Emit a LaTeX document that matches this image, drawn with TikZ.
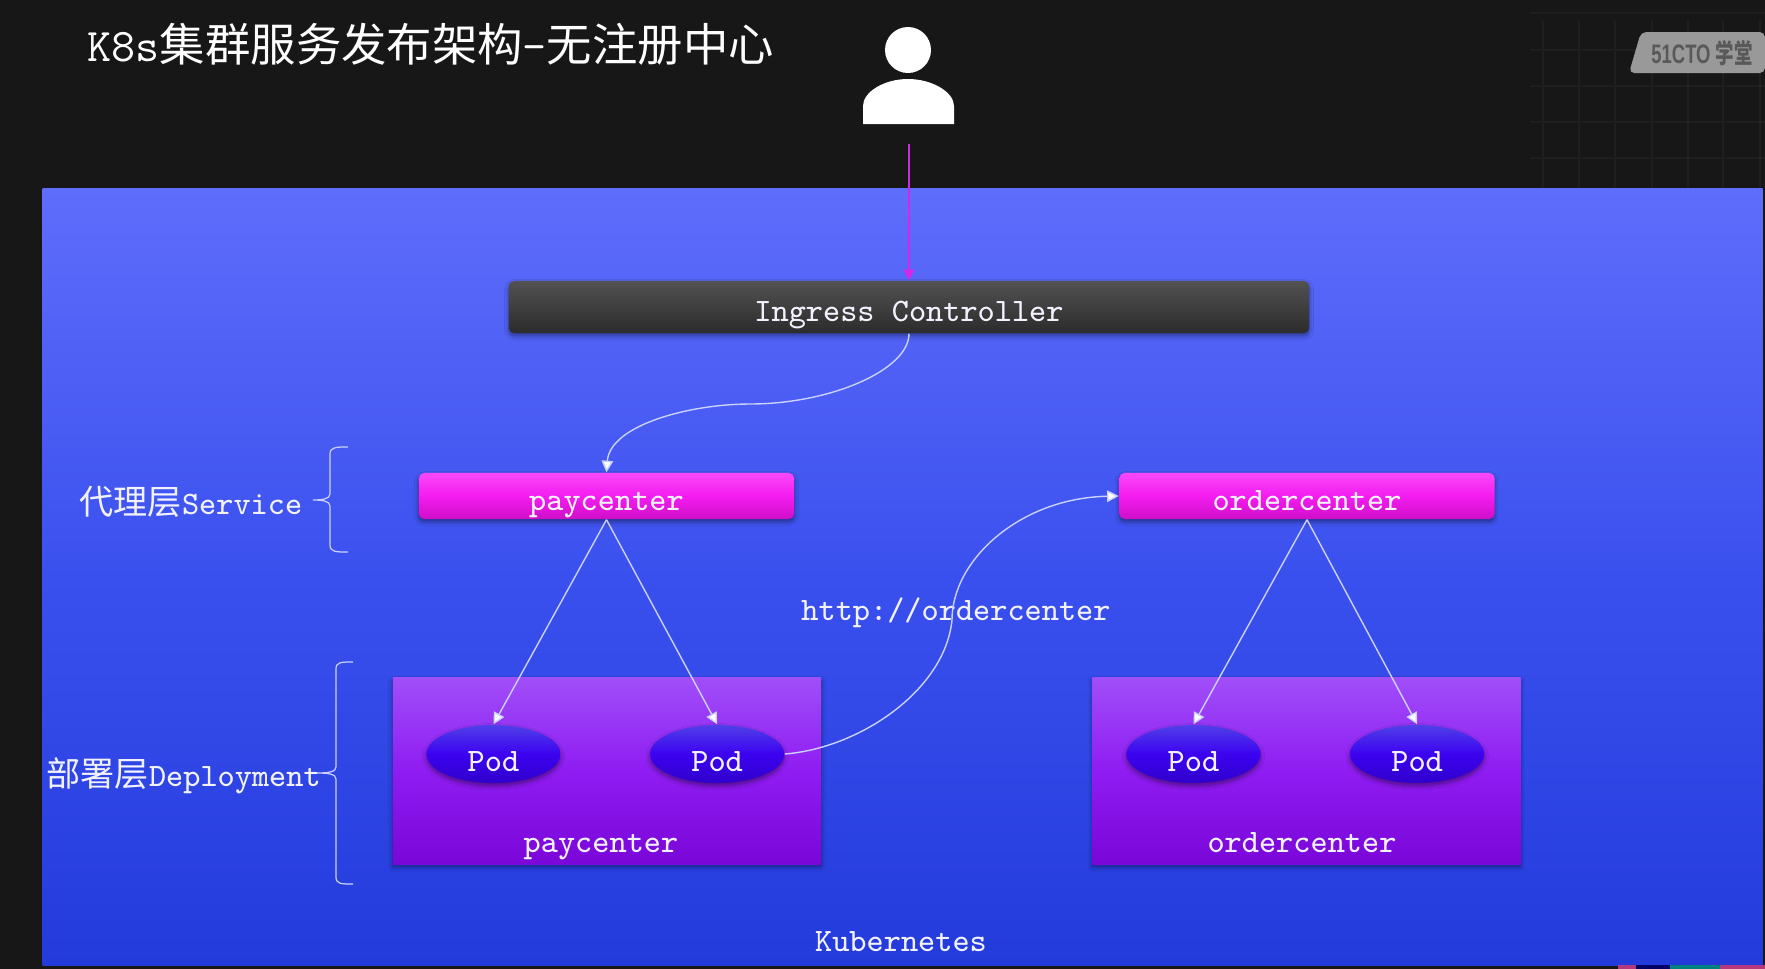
\documentclass[tikz,border=0pt]{standalone}
\usepackage{fontspec}
\usetikzlibrary{arrows.meta, shapes.geometric, shadows.blur}
\newfontfamily\cjk{Noto Sans CJK SC}
\newfontfamily\badgefont{Liberation Sans}
\definecolor{page}{HTML}{171717}
\definecolor{gridline}{HTML}{1F1F1F}
\definecolor{wire}{HTML}{CBD1FB}
\definecolor{ink}{HTML}{F2F2FF}
\definecolor{magline}{HTML}{D428E8}
\definecolor{blue1}{HTML}{5F6DFB}
\definecolor{blue15}{HTML}{3A50EE}
\definecolor{blue2}{HTML}{243BDC}
\definecolor{pink1}{HTML}{FB48F8}
\definecolor{pink2}{HTML}{F41CF0}
\definecolor{pink3}{HTML}{CE0FC8}
\definecolor{violet1}{HTML}{A04EF8}
\definecolor{violet15}{HTML}{8F1CF2}
\definecolor{violet2}{HTML}{7A06D8}
\definecolor{indigo1}{HTML}{5040E8}
\definecolor{indigo2}{HTML}{3C02F0}
\definecolor{indigo3}{HTML}{3000CC}
\newcommand{\midfont}{\fontsize{9.3}{11}\ttfamily}
\newcommand{\cnmid}[1]{{\fontsize{9.7}{11}\cjk #1}}
\newcommand{\cntitle}[1]{{\fontsize{12.9}{16}\cjk #1}}

\begin{document}
\begin{tikzpicture}[x=0.01cm,y=-0.01cm,>={Triangle[length=3.3pt,width=3.3pt,fill=white]},node distance=2.235cm,
  label node/.style={text=ink,font=\midfont,inner sep=0pt,text height=8.5pt,text depth=0pt},
  wire line/.style={color=wire,line width=0.4pt,->},
  soft shadow/.style={blur shadow={shadow blur steps=6,shadow xshift=0pt,shadow yshift=-0.8pt,shadow blur radius=1.2pt,shadow opacity=45}},
  ingress node/.style={rectangle,rounded corners=1.5pt,minimum width=8cm,minimum height=0.52cm,inner sep=0pt,top color=black!68,bottom color=black!83,soft shadow,label node},
  service node/.style={rectangle,rounded corners=1.5pt,minimum width=3.75cm,minimum height=0.46cm,inner sep=0pt,top color=pink1,bottom color=pink3,middle color=pink2,soft shadow,label node},
  deploy node/.style={rectangle,minimum width=4.28cm,minimum height=1.86cm,inner sep=0pt,top color=violet1,bottom color=violet2,middle color=violet15,soft shadow},
  pod node/.style={ellipse,minimum width=1.34cm,minimum height=0.58cm,inner sep=0pt,top color=indigo1,bottom color=indigo3,middle color=indigo2,soft shadow,label node,text height=9.7pt}]

  \useasboundingbox (0,0) rectangle (1765,969);
  \fill[page] (0,0) rectangle (1765,969);

  % faint grid, top right
  \foreach \gx in {1543,1579,1615,1652,1688,1723,1760}
    \draw[gridline,line width=0.3pt] (\gx,20) -- (\gx,188);
  \foreach \gy in {13,50,86,122,158}
    \draw[gridline,line width=0.3pt] (1530,\gy) -- (1765,\gy);

  \fill[white!60!black,rounded corners=1.5pt] (1641,32) -- (1765,32) -- (1765,73) -- (1629,73) -- cycle;
  \node[text=black!65,inner sep=0pt,font=\fontsize{7.6}{9}\bfseries] (badge) at (1702,53) {\scalebox{0.69}[1]{\badgefont 51CTO {\cjk 学堂}}};

  \node[inner sep=0pt,anchor=base west,text=white,font=\fontsize{13.3}{16}\ttfamily] (title) at (87,61) {K8s\cntitle{集群服务发布架构}-\cntitle{无注册中心}};

  % user
  \fill[white] (908,50) ellipse (23 and 23);
  \fill[white] (863,124) -- (863,106) .. controls (863,92) and (884,79) .. (908,79) .. controls (932,79) and (954,92) .. (954,106) -- (954,124) -- cycle;
  \coordinate (user) at (909,144);

  \node[rectangle,minimum width=17.19cm,minimum height=7.76cm,inner sep=0pt,top color=blue1,bottom color=blue2,middle color=blue15] (k8s) at (902.5,577) {};

  \node[ingress node] (ingress) at (909,307) {Ingress Controller};

  \node[service node] (paysvc) at (606.5,496) {paycenter};
  \node[service node] (ordersvc) at (1307,496) {ordercenter};

  \node[deploy node] (paydeploy) at (607,771) {};
  \node[deploy node] (orderdeploy) at (1306.5,771) {};

  \node[pod node] (pod1) at (493.5,754) {Pod};
  \node[pod node] (pod2) [right of=pod1] {Pod};
  \node[pod node] (pod3) at (1193.5,754) {Pod};
  \node[pod node] (pod4) [right of=pod3] {Pod};

  \node[label node] (paylabel) at (601,838) {paycenter};
  \node[label node] (orderlabel) at (1302,838) {ordercenter};
  \node[label node] (kube) at (901,937) {Kubernetes};
  \node[label node] (http) at (956,606) {http://ordercenter};
  \node[label node,anchor=west] (svclayer) at (79,499.5) {\cnmid{代理层}Service};
  \node[label node,anchor=west] (deplayer) at (46,772) {\cnmid{部署层}Deployment};

  % braces
  \draw[wire,line width=0.35pt] (348,447) .. controls (336,447) and (330,447) .. (330,454) -- (330,494) .. controls (330,499) and (322,500) .. (313,500) .. controls (322,500) and (330,501) .. (330,506) -- (330,545) .. controls (330,552) and (336,552) .. (348,552);
  \draw[wire,line width=0.35pt] (353,662) .. controls (341,662) and (336,662) .. (336,669) -- (336,767) .. controls (336,772) and (328,773) .. (317,773) .. controls (328,773) and (336,774) .. (336,779) -- (336,877) .. controls (336,884) and (341,884) .. (353,884);

  \draw[color=magline,line width=0.7pt,-{Triangle[length=3pt,width=3pt]}] (user) -- (ingress.north);
  \path[wire line]
       (paysvc.south) edge (pod1.north)
       (paysvc.south) edge (pod2.north)
       (ordersvc.south) edge (pod3.north)
       (ordersvc.south) edge (pod4.north)
  ;
  \coordinate (ingressbend) at (750,404);
  \coordinate (httpbend) at (952,620);
  \draw[wire line] (ingress.south) .. controls (909,370) and (830,404) .. (ingressbend) .. controls (690,404) and (610,425) .. (paysvc.north);
  \draw[wire line] (pod2.east) .. controls (860,748) and (945,690) .. (httpbend) .. controls (952,560) and (1020,498) .. (ordersvc.west);

  % bottom right leftover of the screen
  \fill[magenta!70!black] (1618,965) rectangle (1636,969);
  \fill[blue!40!black] (1636,965) rectangle (1670,969);
  \fill[teal] (1670,965) rectangle (1720,969);
  \fill[magenta!70!black] (1720,965) rectangle (1765,969);
\end{tikzpicture}
\end{document}
